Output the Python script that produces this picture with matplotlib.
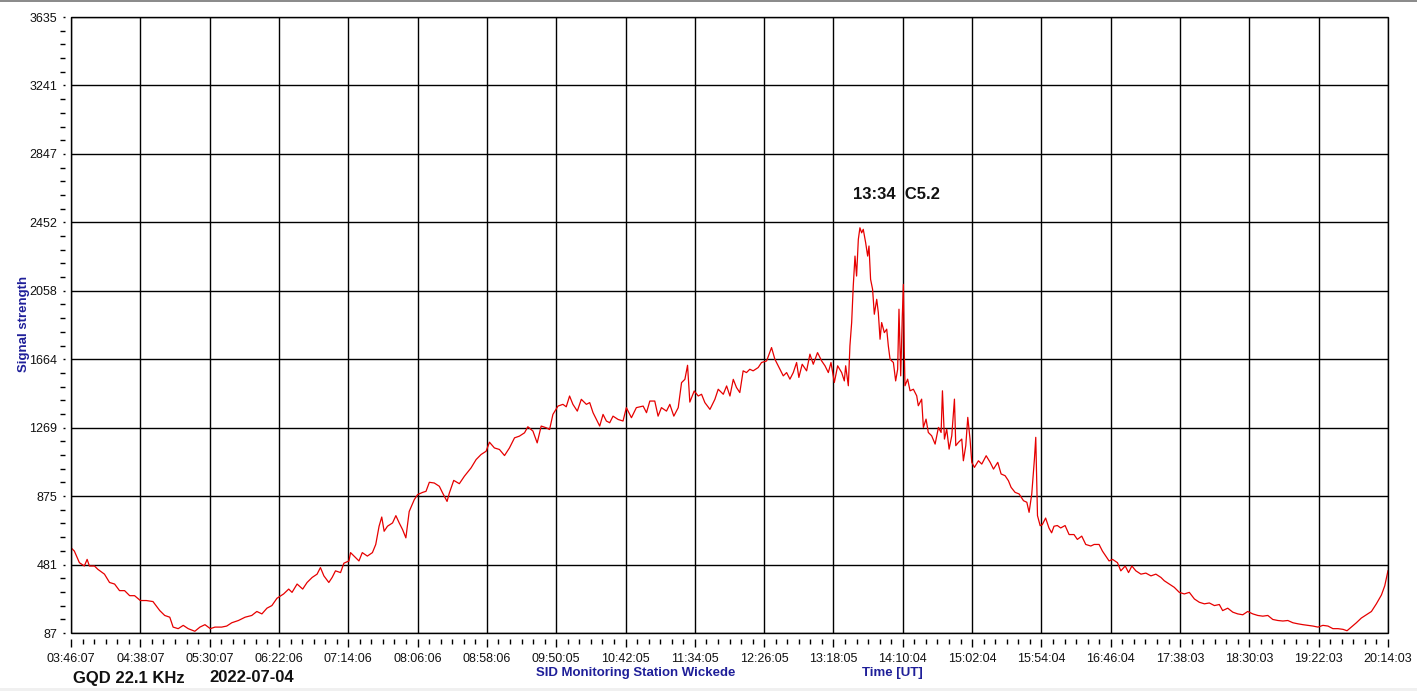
import matplotlib
matplotlib.use("Agg")
import matplotlib.pyplot as plt
from matplotlib.ticker import AutoMinorLocator, FixedLocator
from matplotlib.patches import Rectangle
import numpy as np

plt.rcParams['font.family'] = ['Liberation Sans', 'DejaVu Sans']

# ---- data: minutes after 03:46:07 UT, signal strength ----
minutes = [
    0, 2.5, 6.3, 10.0, 12.1, 13.8, 17.6, 20.1, 25.1, 28.9, 32.7, 36.4, 40.2, 44.0, 47.7,
    52.0, 56.5, 61.5, 66.6, 70.3, 74.1, 76.6, 80.4, 84.2, 87.9, 92.9, 96.7, 100.5, 104.5,
    108.0, 113.0, 116.8, 120.6, 125.6, 130.6, 135.6, 139.4, 143.2, 147.0, 150.7, 154.5,
    159.5, 163.3, 165.8, 169.6, 173.8, 177.1, 180.9, 184.6, 187.1, 189.7, 193.4, 195.9,
    198.4, 202.2, 204.7, 208.5, 209.7, 212.3, 216.0, 218.5, 222.3, 226.1, 228.6, 231.1,
    233.1, 234.9, 237.4, 241.2, 243.7, 246.2, 248.7, 251.2,
    253.7, 257.5, 260.0, 263.8, 266.3, 268.8, 272.5, 276.3, 278.8, 282.1, 283.8, 287.1,
    291.3, 295.1, 300.1, 303.9, 307.6, 311.4, 313.9, 317.6, 321.4, 325.2, 328.9, 332.7,
    336.4, 340.2, 342.7, 346.5, 349.7, 352.7, 356.5, 359.0, 361.5, 365.3, 369.0, 371.5,
    374.0, 376.5, 379.8, 382.8, 386.6, 389.1, 391.6, 394.1, 396.6, 399.1, 401.6, 404.1,
    406.6, 410.4, 414.1, 416.6, 420.4, 424.1, 429.2, 431.7, 434.2, 437.9, 440.4, 442.9,
    446.7, 449.2, 452.2, 455.5, 458.0, 460.5, 462.5, 464.2, 467.5, 470.5, 473.0, 475.5,
    479.3, 483.0, 485.5, 489.3, 491.8, 494.3, 496.8,
    499.2, 501.7, 504.2, 506.7, 509.2, 511.7, 515.5, 518.0, 521.8, 525.5, 528.0, 530.5,
    534.3, 536.8, 539.3, 541.8, 544.3, 546.0, 548.5, 551.8, 554.3, 556.8, 560.0, 563.1,
    565.6, 568.1, 570.1, 572.6, 575.1, 578.1, 580.1, 581.1, 583.1, 584.3, 585.6, 586.8,
    588.1, 589.3, 590.6, 591.8, 593.1, 594.3, 596.1, 597.6, 598.6, 599.8, 601.3, 602.6,
    604.4, 605.6, 606.9, 608.1, 610.1, 611.9, 613.1, 614.4, 616.9, 618.6, 620.1, 621.1,
    622.4, 623.6, 624.4, 625.1, 625.6, 627.6, 629.4, 631.9, 634.4, 635.6, 638.1, 639.4,
    641.4, 643.1, 645.6, 648.2, 650.7, 652.7, 653.7, 655.2, 656.9, 658.7, 660.7, 662.7,
    663.7, 665.7, 668.2, 669.4, 671.2, 672.7, 674.4, 675.7, 677.7, 680.7, 683.2, 686.5,
    689.5, 692.0, 695.2, 697.7, 700.7, 703.2, 705.2, 708.2, 711.2, 714.5, 717.0, 718.7,
    720.7, 722.7, 723.7, 725.0, 727.0,
    728.6, 731.1, 733.6, 735.6, 737.4, 739.9, 742.4, 745.7, 748.7, 752.4, 754.9, 758.2,
    761.2, 765.0, 767.5, 771.2, 773.7, 776.2, 778.7, 781.3, 785.0, 787.5, 790.8, 793.3,
    795.8, 798.8, 802.6, 806.3, 810.1, 813.8, 817.6, 820.1, 823.9, 827.6, 831.4, 835.1,
    838.9, 842.7, 846.4, 850.2, 853.9, 857.7, 861.4, 863.9, 867.7, 871.5, 875.2, 879.0,
    882.7, 886.5, 890.3, 894.0, 897.8, 901.5, 905.3, 909.1, 912.8, 916.6, 920.3, 924.1,
    927.9, 931.6, 935.4, 939.1, 942.9, 946.6, 950.4, 954.2, 957.2, 960.4, 964.2, 967.9,
    971.7, 975.5, 979.2, 983.0, 985.5, 987.9,
]
signal = [
    578, 559, 492, 473, 511, 473, 473, 454, 426, 378, 369, 331, 331, 302, 302,
    274, 274, 268, 216, 188, 178, 121, 112, 131, 112, 97, 121, 135, 112,
    121, 121, 127, 146, 159, 178, 188, 211, 197, 230, 245, 287,
    312, 340, 321, 369, 340, 378, 407, 426, 464, 416, 378, 407,
    445, 435, 489, 502, 550, 530, 502, 550, 530, 550, 597, 702,
    755, 673, 702, 721, 763, 721, 683, 635,
    787, 855, 884, 897, 903, 955, 951, 932, 893, 845, 893, 966,
    947, 990, 1038, 1086, 1115, 1134, 1186, 1153, 1144, 1109, 1153, 1211,
    1221, 1240, 1275, 1250, 1182, 1279, 1269, 1259, 1346, 1394, 1404, 1390,
    1452, 1404, 1365, 1433, 1404, 1414, 1356, 1317, 1279, 1346, 1308, 1298,
    1336, 1317, 1308, 1385, 1327, 1385, 1394, 1356, 1423, 1423, 1336, 1385,
    1365, 1404, 1336, 1385, 1529, 1548, 1629, 1417, 1481, 1452, 1462, 1414,
    1375, 1433, 1491, 1462, 1510, 1452, 1548,
    1501, 1472, 1597, 1587, 1606, 1597, 1616, 1645, 1654, 1731, 1664, 1626,
    1568, 1587, 1549, 1587, 1645, 1559, 1635, 1597, 1693, 1635, 1702, 1654,
    1626, 1587, 1645, 1530, 1626, 1587, 1539, 1626, 1511, 1741, 1875, 2086,
    2258, 2143, 2354, 2421, 2392, 2412, 2335, 2258, 2316, 2124, 2067, 1923,
    2009, 1932, 1779, 1875, 1817, 1837, 1741, 1664, 1645, 1539, 1606, 1952,
    1568, 1913, 2095, 1702, 1511, 1549, 1482, 1491, 1453, 1396, 1434, 1271,
    1319, 1242, 1223, 1175, 1271, 1242, 1482, 1204, 1261, 1146, 1223, 1434,
    1166, 1185, 1204, 1079, 1166, 1329, 1204, 1070, 1041, 1079, 1060, 1108,
    1070, 1031, 1070, 1003, 993, 964, 926, 897, 888, 849, 840, 782,
    888, 1089, 1214, 763, 705,
    711, 749, 692, 664, 702, 706, 692, 706, 654, 654, 626, 645,
    597, 588, 597, 597, 559, 530, 502, 511, 492, 445, 473, 435,
    473, 445, 426, 432, 416, 426, 407, 388, 369, 350, 321, 312,
    321, 283, 264, 255, 260, 245, 251, 216, 230, 207, 197, 192,
    211, 197, 188, 184, 188, 165, 159, 156, 159, 146, 140, 135,
    131, 127, 121, 131, 127, 112, 112, 108, 100, 121, 146, 173,
    192, 211, 255, 306, 359, 445,
]

time_labels = ["03:46:07", "04:38:07", "05:30:07", "06:22:06", "07:14:06", "08:06:06",
               "08:58:06", "09:50:05", "10:42:05", "11:34:05", "12:26:05", "13:18:05",
               "14:10:04", "15:02:04", "15:54:04", "16:46:04", "17:38:03", "18:30:03",
               "19:22:03", "20:14:03"]
y_labels = ["87", "481", "875", "1269", "1664", "2058", "2452", "2847", "3241", "3635"]
span_minutes = 987.93
y_min, y_max = 87, 3635

W, H = 1417, 691
fig = plt.figure(figsize=(W / 100, H / 100), dpi=100)
fig.patch.set_facecolor('white')

ax = fig.add_axes([71 / W, (H - 633) / H, (1388 - 71) / W, (633 - 17) / H])
ax.plot(minutes, signal, color='#e60000', lw=0.9, zorder=2)

ax.set_xlim(0, span_minutes)
ax.set_ylim(y_min, y_max)

xt = np.linspace(0, span_minutes, len(time_labels))
ax.xaxis.set_major_locator(FixedLocator(xt))
ax.set_xticklabels(time_labels)
ax.xaxis.set_minor_locator(AutoMinorLocator(6))

yt = np.linspace(y_min, y_max, len(y_labels))
ax.yaxis.set_major_locator(FixedLocator(yt))
ax.set_yticklabels(y_labels)
ax.yaxis.set_minor_locator(AutoMinorLocator(5))

ax.grid(True, which='major', color='black', lw=1.0, zorder=1)
ax.set_axisbelow(True)

for s in ['left', 'bottom']:
    ax.spines[s].set_position(('outward', 4.5))
    ax.spines[s].set_visible(False)
for s in ['top', 'right']:
    ax.spines[s].set_visible(False)
ax.add_patch(Rectangle((0, 0), 1, 1, transform=ax.transAxes, fill=False,
                       edgecolor='black', lw=1.0, clip_on=False, zorder=3))

ax.tick_params(axis='x', which='major', length=6, width=1, color='black',
               labelsize=9, pad=4, labelcolor='#111111')
ax.tick_params(axis='x', which='minor', length=3.5, width=1, color='black')
ax.tick_params(axis='y', which='major', length=1.5, width=1, color='black',
               labelsize=9, pad=4, labelcolor='#111111')
ax.tick_params(axis='y', which='minor', length=3.5, width=1, color='black')

navy = '#1f1f99'
fig.text(73 / W, 1 - 678 / H, "GQD 22.1 KHz", fontsize=12, fontweight='bold',
         color='#111111', ha='left', va='center')
fig.text(209 / W, 1 - 678 / H, "2022-07-04", fontsize=12, fontweight='bold',
         color='#111111', ha='left', va='center')
fig.text(635.5 / W, 1 - 673 / H, "SID Monitoring Station Wickede", fontsize=9.5,
         fontweight='bold', color=navy, ha='center', va='center')
fig.text(892.5 / W, 1 - 673 / H, "Time [UT]", fontsize=9.5,
         fontweight='bold', color=navy, ha='center', va='center')
fig.text(24.5 / W, 1 - 323.5 / H, "Signal strength", fontsize=9.5, rotation=90,
         fontweight='bold', color=navy, ha='center', va='center')
fig.text(853 / W, 1 - 194.5 / H, "13:34  C5.2", fontsize=12, fontweight='bold',
         color='#111111', ha='left', va='center')

# window frame details
fig.add_artist(Rectangle((0, 1 - 2 / H), 1, 2 / H, transform=fig.transFigure,
                         facecolor='#8c8c8c', edgecolor='none'))
fig.add_artist(Rectangle((0, 0), 1, 3 / H, transform=fig.transFigure,
                         facecolor='#f0f0f0', edgecolor='none'))

fig.savefig("out.png", dpi=100, facecolor='white')
